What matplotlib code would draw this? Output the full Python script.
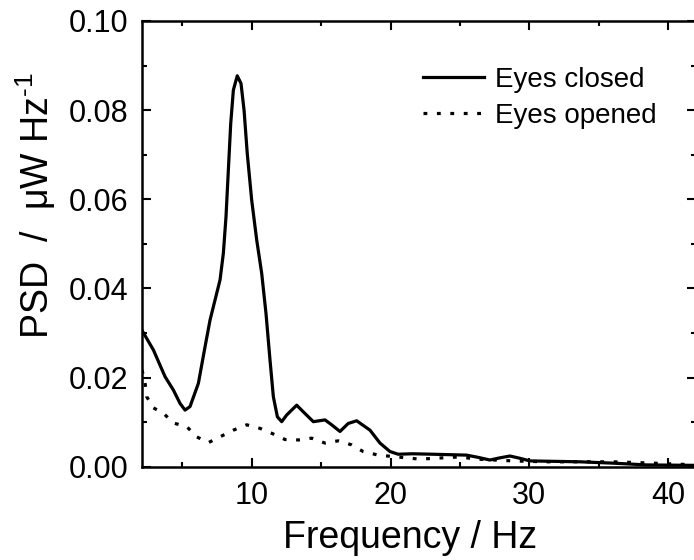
import matplotlib
matplotlib.use('Agg')
import matplotlib.pyplot as plt
from matplotlib.ticker import MultipleLocator

plt.rcParams['font.family'] = ['Liberation Sans', 'DejaVu Sans']
plt.rcParams['mathtext.fontset'] = 'custom'
plt.rcParams['mathtext.rm'] = 'Liberation Sans'
plt.rcParams['mathtext.default'] = 'regular'

# Power spectral density, eyes closed
freq_closed = [2.08, 2.92, 3.76, 4.36, 4.84, 5.2, 5.56, 6.16, 6.64, 7.0, 7.36, 7.72, 7.96,
               8.15, 8.32, 8.49, 8.68, 8.96, 9.23, 9.45, 9.68, 10.0, 10.36, 10.72, 11.03,
               11.32, 11.56, 11.85, 12.16, 12.52, 13.24, 13.72, 14.44, 15.28, 15.76, 16.36,
               16.95, 17.56, 18.52, 19.24, 19.96, 20.55, 21.6, 23.0, 25.47, 26.3, 27.15,
               27.9, 28.6, 29.3, 30.04, 33.64, 36.0, 38.43, 42.0]
psd_closed = [0.0307, 0.0262, 0.0202, 0.0172, 0.0142, 0.0127, 0.0135, 0.0187, 0.0269,
              0.0329, 0.0374, 0.0419, 0.0479, 0.0561, 0.0666, 0.077, 0.0845, 0.0877,
              0.086, 0.08, 0.0703, 0.0598, 0.0509, 0.0434, 0.0344, 0.0239, 0.0157,
              0.0112, 0.0101, 0.0116, 0.0138, 0.0123, 0.0101, 0.0105, 0.0094, 0.0079,
              0.0097, 0.0103, 0.0082, 0.0053, 0.0034, 0.0028, 0.0029, 0.0028, 0.0026,
              0.0021, 0.0015, 0.002, 0.0024, 0.0019, 0.0013, 0.0011, 0.0008, 0.0004,
              0.0003]

# Power spectral density, eyes opened
freq_opened = [2.1, 2.32, 2.44, 2.92, 3.64, 4.36, 5.32, 6.04, 6.88, 7.72, 8.68, 9.64,
               10.6, 11.44, 12.4, 13.36, 14.32, 15.28, 16.23, 17.2, 18.03, 19.11, 22.1,
               25.0, 26.2, 28.8, 31.2, 36.0, 38.9, 42.0]
psd_opened = [0.0217, 0.0188, 0.0157, 0.0132, 0.012, 0.0098, 0.009, 0.0067, 0.0054,
              0.0067, 0.0082, 0.0094, 0.0086, 0.0075, 0.0061, 0.006, 0.0064, 0.0053,
              0.0058, 0.0049, 0.0034, 0.0026, 0.0017, 0.0022, 0.0017, 0.0013, 0.0011,
              0.0011, 0.0008, 0.0004]

fig = plt.figure(figsize=(6.94, 5.6), dpi=100)
ax = fig.add_axes([142 / 694, 93.3 / 560, 554 / 694, 445.7 / 560])

ax.plot(freq_closed, psd_closed, color='black', lw=2.3, label='Eyes closed',
        solid_joinstyle='round')
ax.plot(freq_opened, psd_opened, color='black', lw=2.3, linestyle=(0, (1.2, 3.0)),
        label='Eyes opened')

ax.set_xlim(2.1, 42)
ax.set_ylim(0, 0.10)
ax.xaxis.set_major_locator(MultipleLocator(10))
ax.xaxis.set_minor_locator(MultipleLocator(5))
ax.yaxis.set_major_locator(MultipleLocator(0.02))
ax.yaxis.set_minor_locator(MultipleLocator(0.01))
ax.yaxis.set_major_formatter(lambda v, pos: f'{v:.2f}')

ax.tick_params(which='both', direction='in', top=True, right=True, width=1.5)
ax.tick_params(which='major', length=6.5, labelsize=22)
ax.tick_params(axis='x', which='major', pad=10.5)
ax.tick_params(axis='y', which='major', pad=10)
ax.tick_params(which='minor', length=3.5)
for spine in ax.spines.values():
    spine.set_linewidth(1.8)

ax.set_xlabel('Frequency / Hz', fontsize=27)
ax.xaxis.set_label_coords(0.4838, -0.1196)
ax.set_ylabel(r'PSD  /  μW Hz$^{\text{-}1}$', fontsize=27)
ax.yaxis.set_label_coords(-0.1516, 0.587)

ax.legend(loc='upper left', bbox_to_anchor=(423 / 694, 1 - 67 / 560),
          bbox_transform=fig.transFigure, frameon=False, fontsize=20,
          borderpad=0, borderaxespad=0, handlelength=2.2, handletextpad=0.38,
          labelspacing=0.35)

fig.savefig('out.png', dpi=100)
